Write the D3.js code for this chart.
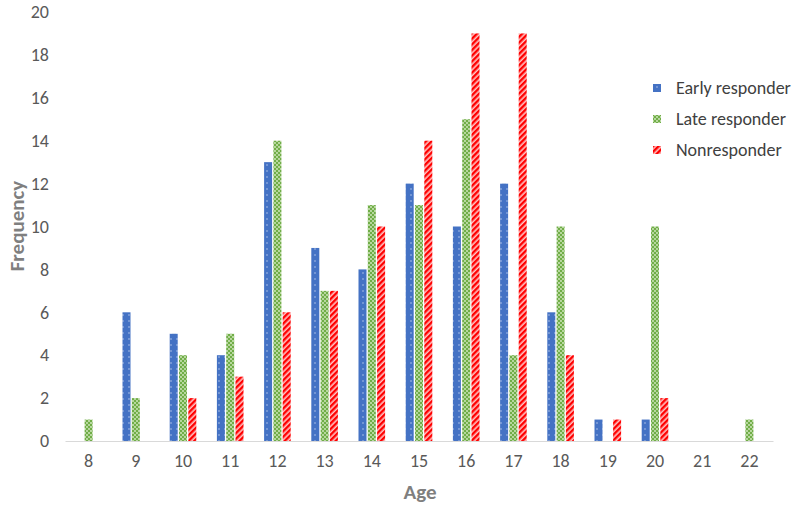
<!DOCTYPE html>
<html><head><meta charset="utf-8">
<script src="https://cdn.jsdelivr.net/npm/d3@7"></script>
<style>body{margin:0;background:#fff}svg{display:block}</style>
</head><body>
<svg id="c" width="800" height="511"></svg>
<script>
const ages = ["8","9","10","11","12","13","14","15","16","17","18","19","20","21","22"];
const early = [0,6,5,4,13,9,8,12,10,12,6,1,1,0,0];
const late  = [1,2,4,5,14,7,11,11,15,4,10,0,10,0,1];
const non   = [0,0,2,3,6,7,10,14,19,19,4,1,2,0,0];
const seriesNames = ["Early responder","Late responder","Nonresponder"];
const yTicks = [0,2,4,6,8,10,12,14,16,18,20];

const svg = d3.select("#c");
const defs = svg.append("defs");
const p1 = defs.append("pattern").attr("id","pE").attr("patternUnits","userSpaceOnUse").attr("width",6).attr("height",6);
p1.append("rect").attr("width",6).attr("height",6).attr("fill","#4472C4");
p1.append("circle").attr("cx",3).attr("cy",3).attr("r",0.7).attr("fill","#c9d6f0");
const p2 = defs.append("pattern").attr("id","pL").attr("patternUnits","userSpaceOnUse").attr("width",4).attr("height",4);
p2.append("rect").attr("width",4).attr("height",4).attr("fill","#70AD47");
p2.append("circle").attr("cx",1).attr("cy",1).attr("r",0.9).attr("fill","#d9ecc8");
p2.append("circle").attr("cx",3).attr("cy",3).attr("r",0.9).attr("fill","#d9ecc8");
const p3 = defs.append("pattern").attr("id","pN").attr("patternUnits","userSpaceOnUse").attr("width",4).attr("height",4).attr("patternTransform","rotate(45)");
p3.append("rect").attr("width",4).attr("height",4).attr("fill","#ffc4c4");
p3.append("rect").attr("width",2.4).attr("height",4).attr("fill","#FF0000");

const fills = ["url(#pE)","url(#pL)","url(#pN)"];

const x0 = 65, x1 = 773, yBase = 441, yTop = 12;
const x = d3.scaleBand().domain(ages).range([x0,x1]).paddingInner(0).paddingOuter(0);
const y = d3.scaleLinear().domain([0,20]).range([yBase,yTop]);
const bw = 8, gap = 1.3;

const fontF = "Calibri, Carlito, Lato, 'Open Sans', sans-serif";

const yAxis = d3.axisLeft(y).tickValues(yTicks).tickSize(0).tickPadding(0);
const yg = svg.append("g").attr("transform","translate(49,0)").call(yAxis);
yg.select(".domain").remove();
yg.selectAll("text").attr("fill","#595959").style("font-family",fontF).style("font-size","18px");

const xAxis = d3.axisBottom(x).tickSize(0).tickPadding(13);
const xg = svg.append("g").attr("transform",`translate(0,${yBase})`).call(xAxis);
xg.select(".domain").attr("stroke","#d9d9d9").attr("stroke-width",1.2);
xg.selectAll("text").attr("fill","#595959").style("font-family",fontF).style("font-size","18px");

const data = [early, late, non];
data.forEach((vals, si) => {
  svg.append("g").selectAll("rect").data(vals).join("rect")
    .attr("x",(d,i)=> x(ages[i]) + x.bandwidth()/2 + (si-1)*(bw+gap) - bw/2)
    .attr("y",d=>y(d))
    .attr("width",bw)
    .attr("height",d=>yBase - y(d))
    .attr("fill",fills[si]);
});

svg.append("text").attr("x",420).attr("y",499).attr("text-anchor","middle")
  .attr("fill","#7f7f7f").style("font-family",fontF).style("font-size","21px").style("font-weight","bold").text("Age");
svg.append("text").attr("transform","translate(24,226) rotate(-90)").attr("text-anchor","middle")
  .attr("fill","#7f7f7f").style("font-family",fontF).style("font-size","21px").style("font-weight","bold").text("Frequency");

const lg = svg.append("g");
seriesNames.forEach((n,i)=>{
  const yy = 88 + i*31;
  lg.append("rect").attr("x",653).attr("y",yy-4).attr("width",8).attr("height",8).attr("fill",fills[i]);
  lg.append("text").attr("x",676).attr("y",yy).attr("dy","0.35em").attr("fill","#404040")
    .style("font-family",fontF).style("font-size","18px").text(n);
});
</script>
</body></html>
